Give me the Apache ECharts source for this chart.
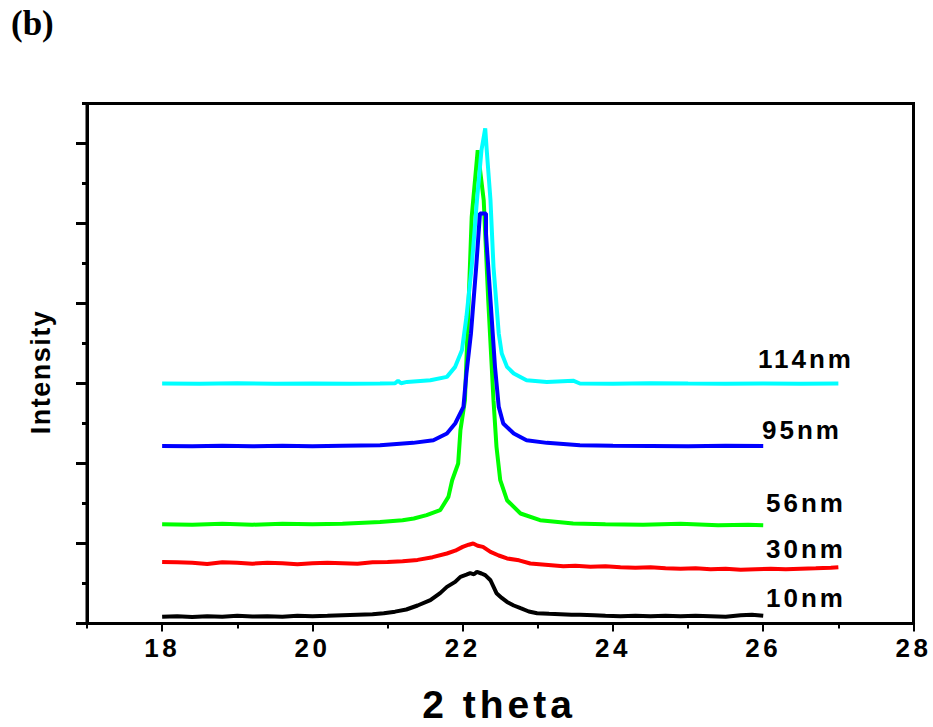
<!DOCTYPE html>
<html>
<head>
<meta charset="utf-8">
<script src="https://cdn.jsdelivr.net/npm/echarts@6/dist/echarts.min.js"></script>
<style>
  html, body { margin: 0; padding: 0; background: #fff; }
  #chart { width: 933px; height: 727px; }
</style>
</head>
<body>
<div id="chart"></div>
<script>
// ---- data (2 theta, intensity) ----
const x10 = [18.0,18.2,18.4,18.6,18.8,19.0,19.2,19.4,19.6,19.8,20.0,20.2,20.4,20.6,20.8,20.95,21.1,21.25,21.4,21.57,21.7,21.79,21.9,21.97,22.05,22.1,22.15,22.19,22.25,22.3,22.37,22.45,22.52,22.59,22.68,22.77,22.88,22.99,23.15,23.3,23.45,23.56,23.75,23.9,24.1,24.3,24.5,24.7,24.9,25.1,25.3,25.5,25.7,25.85,26.0];
const y10 = [85,91,80,91,85,97,88,91,85,97,91,97,104,110,116,129,148,175,225,291,380,458,520,583,610,629,615,645,625,604,541,379,320,270,225,191,150,129,122,116,110,110,104,97,91,97,91,97,91,97,91,85,104,110,97];

const x30 = [18.0,18.2,18.4,18.6,18.8,19.0,19.2,19.4,19.6,19.8,20.0,20.2,20.4,20.6,20.8,21.0,21.2,21.4,21.6,21.79,21.9,22.0,22.08,22.14,22.2,22.27,22.37,22.48,22.59,22.75,22.9,23.1,23.34,23.5,23.7,23.9,24.1,24.3,24.5,24.7,24.9,25.1,25.3,25.5,25.7,25.9,26.1,26.3,26.5,26.7,26.9,27.0];
const y30 = [770,766,760,745,766,758,748,760,754,741,754,760,754,748,766,770,779,795,829,875,910,958,985,1000,972,958,895,850,813,790,750,735,716,722,710,716,704,698,704,691,685,691,679,685,673,679,685,679,685,691,698,704];

const x56 = [18.0,18.4,18.8,19.2,19.6,20.0,20.4,20.9,21.2,21.35,21.52,21.7,21.81,21.86,21.94,21.97,22.03,22.08,22.12,22.2,22.28,22.34,22.41,22.45,22.5,22.59,22.77,23.03,23.47,23.9,24.4,24.9,25.4,25.8,26.0];
const y56 = [1241,1235,1248,1235,1248,1241,1248,1270,1290,1313,1354,1416,1583,1791,2000,2416,2791,4041,5083,5916,5291,4041,2791,2208,1791,1541,1375,1291,1250,1241,1235,1248,1229,1235,1229];

const x95 = [18.0,18.4,18.8,19.2,19.6,20.0,20.4,20.9,21.34,21.61,21.79,21.9,22.01,22.05,22.11,22.18,22.23,22.31,22.31,22.37,22.43,22.48,22.54,22.68,22.85,23.12,23.56,24.0,24.5,25.0,25.5,26.0];
const y95 = [2220,2216,2223,2216,2223,2216,2223,2229,2258,2291,2375,2500,2708,3125,3625,4458,5125,5125,4875,4041,3208,2708,2500,2375,2291,2258,2229,2223,2220,2216,2223,2220];

const x114 = [18.0,18.5,19.0,19.5,20.0,20.5,20.9,21.1,21.14,21.18,21.26,21.57,21.79,21.9,21.99,22.05,22.12,22.19,22.25,22.3,22.32,22.37,22.41,22.48,22.52,22.59,22.68,22.85,23.12,23.47,23.56,24.0,24.5,25.0,25.5,26.0,26.5,27.0];
const y114 = [3000,2998,3004,2998,3000,2998,3000,3004,3035,3004,3020,3041,3083,3208,3416,3833,4458,5291,5916,6188,5916,5291,4458,3625,3375,3208,3125,3041,3020,3035,3000,2998,3004,3000,2998,3000,2998,3000];

const xMajorTicks = [18,20,22,24,26,28];
const xMinorTicks = [17,19,21,23,25,27];
const yMajorTicks = [0,1000,2000,3000,4000,5000,6000];
const yMinorTicks = [500,1500,2500,3500,4500,5500,6500];

const seriesNames = ['10nm','30nm','56nm','114nm','95nm'];
const seriesColors = ['#000000','#ff0000','#00ff00','#00ffff','#0000ff'];

function pairs(xs, ys) { return xs.map((x, i) => [x, ys[i]]); }
const seriesData = [pairs(x10,y10), pairs(x30,y30), pairs(x56,y56), pairs(x114,y114), pairs(x95,y95)];

const FONT = 'Liberation Sans, Arial, sans-serif';
const chart = echarts.init(document.getElementById('chart'), null, { renderer: 'svg', width: 933, height: 727 });

const option = {
  animation: false,
  backgroundColor: '#ffffff',
  grid: { left: 87, top: 103.5, width: 826.5, height: 520, show: true, borderColor: '#000', borderWidth: 3, backgroundColor: 'transparent' },
  xAxis: [
    {
      type: 'value', min: 17, max: 28, position: 'bottom',
      axisLine: { show: true, onZero: false, lineStyle: { color: '#000', width: 3 } },
      axisTick: { show: true, customValues: xMajorTicks, length: 8, lineStyle: { color: '#000', width: 2 } },
      axisLabel: { show: true, customValues: xMajorTicks, margin: 11, color: '#000', fontSize: 26, fontWeight: 'bold', fontFamily: FONT },
      splitLine: { show: false }
    },
    {
      type: 'value', min: 17, max: 28, position: 'bottom',
      axisLine: { show: false, onZero: false },
      axisTick: { show: true, customValues: xMinorTicks, length: 5, lineStyle: { color: '#000', width: 2 } },
      axisLabel: { show: false },
      splitLine: { show: false }
    }
  ],
  yAxis: [
    {
      type: 'value', min: 0, max: 6500, position: 'left',
      axisLine: { show: true, onZero: false, lineStyle: { color: '#000', width: 3 } },
      axisTick: { show: true, customValues: yMajorTicks, length: 11, lineStyle: { color: '#000', width: 3 } },
      axisLabel: { show: false },
      splitLine: { show: false }
    },
    {
      type: 'value', min: 0, max: 6500, position: 'left',
      axisLine: { show: false, onZero: false },
      axisTick: { show: true, customValues: yMinorTicks, length: 5, lineStyle: { color: '#000', width: 3 } },
      axisLabel: { show: false },
      splitLine: { show: false }
    }
  ],
  series: seriesData.map((d, i) => ({
    name: seriesNames[i],
    type: 'line',
    xAxisIndex: 0,
    yAxisIndex: 0,
    data: d,
    showSymbol: false,
    symbol: 'none',
    smooth: false,
    lineStyle: { color: seriesColors[i], width: 4 },
    z: 2 + i
  })),
  graphic: [
    { type: 'text', left: 11, top: 6, style: { text: '(b)', fill: '#000', fontSize: 35, fontWeight: 'bold', fontFamily: 'Liberation Serif, Times New Roman, serif' } },
    { type: 'text', x: 41, y: 372, rotation: Math.PI / 2, style: { text: 'Intensity', fill: '#000', fontSize: 27, fontWeight: 'bold', fontFamily: FONT, align: 'center', verticalAlign: 'middle' } },
    { type: 'text', x: 499, y: 704, style: { text: '2 theta', fill: '#000', fontSize: 39, fontWeight: 'bold', fontFamily: FONT, align: 'center', verticalAlign: 'middle' } },
    { type: 'text', x: 758, y: 359, style: { text: '114nm', fill: '#000', fontSize: 26, fontWeight: 'bold', fontFamily: FONT, align: 'left', verticalAlign: 'middle' } },
    { type: 'text', x: 762, y: 430, style: { text: '95nm', fill: '#000', fontSize: 26, fontWeight: 'bold', fontFamily: FONT, align: 'left', verticalAlign: 'middle' } },
    { type: 'text', x: 766, y: 503, style: { text: '56nm', fill: '#000', fontSize: 26, fontWeight: 'bold', fontFamily: FONT, align: 'left', verticalAlign: 'middle' } },
    { type: 'text', x: 766, y: 549, style: { text: '30nm', fill: '#000', fontSize: 26, fontWeight: 'bold', fontFamily: FONT, align: 'left', verticalAlign: 'middle' } },
    { type: 'text', x: 766, y: 598, style: { text: '10nm', fill: '#000', fontSize: 26, fontWeight: 'bold', fontFamily: FONT, align: 'left', verticalAlign: 'middle' } }
  ]
};
chart.setOption(option);

// letter spacing as in the original figure (applied to the SVG text nodes)
function applySpacing() {
  document.querySelectorAll('#chart text').forEach(function (t) {
    const s = (t.textContent || '').trim();
    let ls = null;
    if (s === '(b)') ls = '0px';
    else if (s === 'Intensity') ls = '1.5px';
    else if (s === '2 theta') ls = '4px';
    else if (/^\d+$/.test(s)) ls = '3.5px';
    else if (/nm$/.test(s)) ls = '3px';
    if (ls !== null) {
      t.setAttribute('letter-spacing', ls);
      t.style.letterSpacing = ls;
    }
  });
}
applySpacing();
chart.on('finished', applySpacing);
setTimeout(applySpacing, 50);
</script>
</body>
</html>
